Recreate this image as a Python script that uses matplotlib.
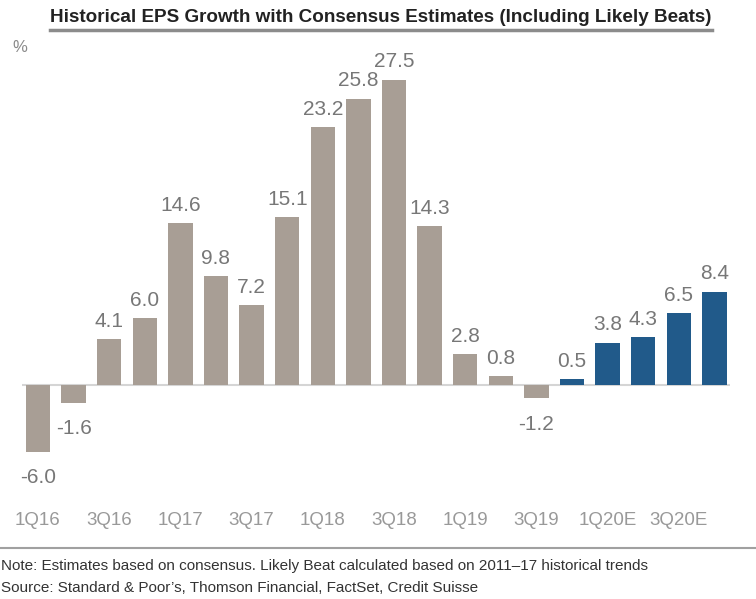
import matplotlib
matplotlib.use('Agg')
import matplotlib.pyplot as plt

plt.rcParams['font.family'] = ['Liberation Sans', 'DejaVu Sans']

# 数据
quarters = ['1Q16', '2Q16', '3Q16', '4Q16', '1Q17', '2Q17', '3Q17', '4Q17',
            '1Q18', '2Q18', '3Q18', '4Q18', '1Q19', '2Q19', '3Q19', '4Q19',
            '1Q20E', '2Q20E', '3Q20E', '4Q20E']
eps_growth = [-6.0, -1.6, 4.1, 6.0, 14.6, 9.8, 7.2, 15.1,
              23.2, 25.8, 27.5, 14.3, 2.8, 0.8, -1.2, 0.5,
              3.8, 4.3, 6.5, 8.4]
n_actual = 15

grey = '#A89E95'
blue = '#215A8A'
colors = [grey] * n_actual + [blue] * (len(quarters) - n_actual)

W, H = 756, 599
fig = plt.figure(figsize=(W / 100, H / 100), dpi=100)

# 坐标轴位置 (像素)
ax_l, ax_r, ax_t, ax_b = 22, 730, 50, 505
ax = fig.add_axes([ax_l / W, 1 - ax_b / H, (ax_r - ax_l) / W, (ax_b - ax_t) / H])

zero_px, ppu = 385, 11.1
ax.set_ylim(-(ax_b - zero_px) / ppu, (zero_px - ax_t) / ppu)
x0, dx = 38, 35.6
ax.set_xlim((ax_l - x0) / dx, (ax_r - x0) / dx)

x = list(range(len(quarters)))
ax.bar(x, eps_growth, width=0.68, color=colors, zorder=2)
ax.axhline(0, color='#D5D5D5', lw=1.5, zorder=1)

for xi, v in zip(x, eps_growth):
    if v >= 0:
        ax.annotate(f'{v:.1f}', (xi, v), xytext=(0, 6), textcoords='offset points',
                    ha='center', va='bottom', fontsize=15, color='#777777')
    else:
        ax.annotate(f'{v:.1f}', (xi, v), xytext=(0, -12), textcoords='offset points',
                    ha='center', va='top', fontsize=15, color='#777777')

ax.set_xticks(x[::2])
ax.set_xticklabels(quarters[::2], fontsize=13.5, color='#999999')
ax.tick_params(axis='x', length=0, pad=5)
ax.set_yticks([])
for s in ax.spines.values():
    s.set_visible(False)

# 标题和下划线
fig.text(381 / W, 1 - 17 / H, 'Historical EPS Growth with Consensus Estimates (Including Likely Beats)',
         ha='center', va='center', fontsize=13.6, fontweight='bold', color='#222222')
fig.add_artist(plt.Line2D([50 / W, 712 / W], [1 - 30 / H, 1 - 30 / H], color='#8C8C8C', lw=2.5))
fig.text(12 / W, 1 - 47 / H, '%', ha='left', va='center', fontsize=12, color='#8A8A8A')

# 注释
fig.add_artist(plt.Line2D([0, 1], [1 - 548 / H, 1 - 548 / H], color='#A0A0A0', lw=1.5))
fig.text(1 / W, 1 - 566 / H, 'Note: Estimates based on consensus. Likely Beat calculated based on 2011\u201317 historical trends',
         ha='left', va='center', fontsize=11, color='#333333')
fig.text(1 / W, 1 - 588 / H, 'Source: Standard & Poor\u2019s, Thomson Financial, FactSet, Credit Suisse',
         ha='left', va='center', fontsize=11, color='#333333')

plt.savefig('out.png', dpi=100)
